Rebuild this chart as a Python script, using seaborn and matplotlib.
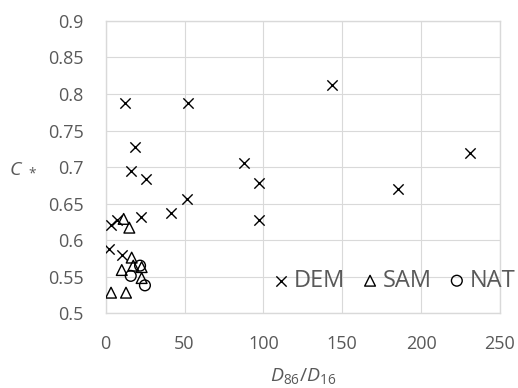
import numpy as np
import pandas as pd
import matplotlib
matplotlib.use("Agg")
import matplotlib.pyplot as plt
import seaborn as sns

# values
dem_x = [12.5, 52.5, 143.8, 18.6, 15.9, 25.6, 87.8, 97.3, 51.4, 41.2, 22.6, 97.3, 185.7, 231.2, 3.6, 7.0, 2.2, 10.2]
dem_y = [0.787, 0.788, 0.812, 0.727, 0.695, 0.683, 0.706, 0.678, 0.656, 0.637, 0.632, 0.627, 0.670, 0.719, 0.621, 0.627, 0.588, 0.580]
sam_x = [11.4, 15.0, 16.5, 17.5, 22.8, 10.2, 22.8, 3.4, 12.9]
sam_y = [0.629, 0.617, 0.576, 0.565, 0.563, 0.559, 0.548, 0.528, 0.528]
nat_x = [21.8, 15.9, 24.9]
nat_y = [0.565, 0.551, 0.538]

xticks = [0, 50, 100, 150, 200, 250]
yticks = [0.5, 0.55, 0.6, 0.65, 0.7, 0.75, 0.8, 0.85, 0.9]

sns.set_style("whitegrid", {"grid.color": "#d9d9d9", "axes.edgecolor": "#d9d9d9"})
plt.rcParams['font.family'] = ['Open Sans', 'DejaVu Sans']
plt.rcParams['mathtext.fontset'] = 'custom'
plt.rcParams['mathtext.it'] = 'Open Sans:italic'
plt.rcParams['mathtext.rm'] = 'Open Sans'

df = pd.concat([
    pd.DataFrame({'x': dem_x, 'y': dem_y, 'kind': 'DEM'}),
    pd.DataFrame({'x': sam_x, 'y': sam_y, 'kind': 'SAM'}),
    pd.DataFrame({'x': nat_x, 'y': nat_y, 'kind': 'NAT'}),
])

fig = plt.figure(figsize=(5.18, 3.88), dpi=100)
ax = fig.add_axes([0.204, 0.193, 0.761, 0.753])

gray = '#595959'
sns.scatterplot(data=df[df.kind == 'DEM'], x='x', y='y', marker='x', color='black',
                s=55, linewidth=1.0, ax=ax, label='DEM', zorder=3)
sns.scatterplot(data=df[df.kind == 'SAM'], x='x', y='y', marker='^', facecolor='none',
                edgecolor='black', s=60, linewidth=1.0, ax=ax, label='SAM', zorder=3)
sns.scatterplot(data=df[df.kind == 'NAT'], x='x', y='y', marker='o', facecolor='none',
                edgecolor='black', s=60, linewidth=1.0, ax=ax, label='NAT', zorder=3)

ax.set_xlim(0, 250)
ax.set_ylim(0.5, 0.9)
ax.set_xticks(xticks)
ax.set_yticks(yticks)
ax.set_yticklabels([f"{v:g}" for v in yticks])
ax.tick_params(axis='both', length=0, labelsize=13, labelcolor=gray)
ax.tick_params(axis='y', pad=16)
ax.tick_params(axis='x', pad=16)
for sp in ax.spines.values():
    sp.set_color('#d9d9d9')
    sp.set_linewidth(1.0)

ax.set_xlabel(r'$D_{86}/D_{16}$', fontsize=14, color=gray, labelpad=9)
ax.set_ylabel(r'$C\ _*$', fontsize=14, color=gray, rotation=0, va='center', ha='center')
ax.yaxis.set_label_coords(-0.21, 0.5)

leg = ax.legend(loc='center left', bbox_to_anchor=(0.522, 0.276), bbox_transform=fig.transFigure,
                ncol=3, frameon=False, fontsize=17, handletextpad=0.1, columnspacing=0.6,
                handlelength=0.9, markerscale=1.0, borderaxespad=0, borderpad=0)
for t in leg.get_texts():
    t.set_color(gray)

fig.savefig('out.png', dpi=100)
